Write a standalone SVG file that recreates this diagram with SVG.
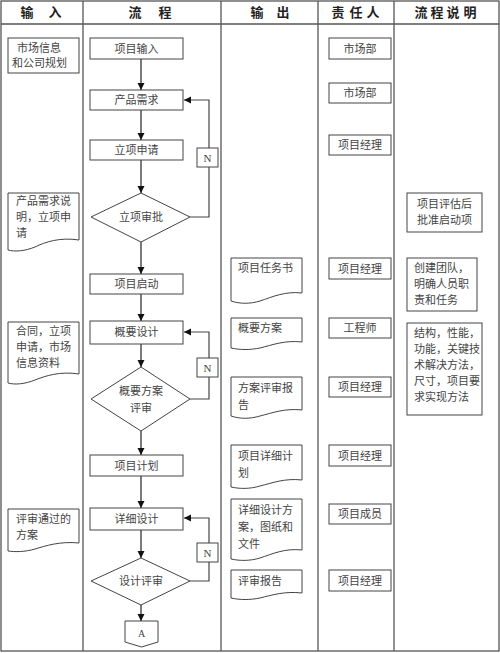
<svg xmlns="http://www.w3.org/2000/svg" width="500" height="653" viewBox="0 0 500 653">
<defs>
<marker id="ah" markerWidth="8" markerHeight="8" refX="7" refY="4" orient="auto" markerUnits="userSpaceOnUse">
<path d="M0,0.5 L7,4 L0,7.5 Z" fill="#111"/>
</marker>
<style>
.grid{stroke:#555;stroke-width:1.3;fill:none}
.box{fill:#fff;stroke:#444;stroke-width:1}
.t{font-family:"Liberation Serif","Noto Sans CJK SC",serif;font-size:11px;fill:#444}
.c{text-anchor:middle}
.h{font-family:"Liberation Serif","Noto Sans CJK SC",serif;font-size:13px;font-weight:bold;fill:#222;text-anchor:middle}
.ln{stroke:#222;stroke-width:1.2;fill:none}
</style>
</defs>
<rect width="500" height="653" fill="#fff"/>
<g id="table">
<rect class="grid" x="1" y="1" width="498" height="650"/>
<line class="grid" x1="1" y1="24" x2="499" y2="24"/>
<line class="grid" x1="83" y1="1" x2="83" y2="651"/>
<line class="grid" x1="221" y1="1" x2="221" y2="651"/>
<line class="grid" x1="318" y1="1" x2="318" y2="651"/>
<line class="grid" x1="394" y1="1" x2="394" y2="651"/>
<text class="h" x="27" y="17">输</text><text class="h" x="55" y="17">入</text>
<text class="h" x="135" y="17">流</text><text class="h" x="165" y="17">程</text>
<text class="h" x="257" y="17">输</text><text class="h" x="283" y="17">出</text>
<text class="h" x="338" y="17">责</text><text class="h" x="356" y="17">任</text><text class="h" x="373" y="17">人</text>
<text class="h" x="421" y="17">流</text><text class="h" x="437" y="17">程</text><text class="h" x="453" y="17">说</text><text class="h" x="470" y="17">明</text>
</g>
<g id="connectors">
<line class="ln" x1="141" y1="59" x2="141" y2="90" marker-end="url(#ah)"/>
<line class="ln" x1="141" y1="110" x2="141" y2="140" marker-end="url(#ah)"/>
<line class="ln" x1="141" y1="160" x2="141" y2="193" marker-end="url(#ah)"/>
<line class="ln" x1="141" y1="242" x2="141" y2="274" marker-end="url(#ah)"/>
<line class="ln" x1="141" y1="294" x2="141" y2="321" marker-end="url(#ah)"/>
<line class="ln" x1="141" y1="344" x2="141" y2="367" marker-end="url(#ah)"/>
<line class="ln" x1="141" y1="431" x2="141" y2="455" marker-end="url(#ah)"/>
<line class="ln" x1="141" y1="476" x2="141" y2="508" marker-end="url(#ah)"/>
<line class="ln" x1="141" y1="530" x2="141" y2="558" marker-end="url(#ah)"/>
<line class="ln" x1="141" y1="605" x2="141" y2="621" marker-end="url(#ah)"/>
<path class="ln" style="stroke:#444" d="M190,217 H209 V100 H184" marker-end="url(#ah)"/>
<path class="ln" style="stroke:#444" d="M190,399 H209 V332 H184" marker-end="url(#ah)"/>
<path class="ln" style="stroke:#444" d="M190,581 H209 V518 H184" marker-end="url(#ah)"/>
<g id="n1"><rect class="box" x="197" y="148" width="21" height="19"/><text class="t c" x="207.5" y="161.5">N</text></g>
<g id="n2"><rect class="box" x="197" y="358" width="21" height="19"/><text class="t c" x="207.5" y="371.5">N</text></g>
<g id="n3"><rect class="box" x="197" y="543" width="21" height="19"/><text class="t c" x="207.5" y="556.5">N</text></g>
</g>
<!-- input column -->
<g id="in1"><rect class="box" x="8" y="38" width="71" height="35"/><text class="t" x="17" y="52">市场信息</text><text class="t" x="12" y="67">和公司规划</text></g>
<g id="in2"><path class="box" d="M8,193 H79 V240 C60,237 45,242 35,247 C25,251 15,252 8,250 Z"/><text class="t" x="16" y="205">产品需求说</text><text class="t" x="16" y="221">明，立项申</text><text class="t" x="16" y="237">请</text></g>
<g id="in3"><path class="box" d="M8,322 H79 V374 C60,371 45,376 35,380 C25,384 15,385 8,383 Z"/><text class="t" x="16" y="335">合同，立项</text><text class="t" x="16" y="351">申请，市场</text><text class="t" x="16" y="367">信息资料</text></g>
<g id="in4"><path class="box" d="M8,509 H79 V543 C60,541 45,546 35,549 C25,552 15,552 8,551 Z"/><text class="t" x="16" y="523">评审通过的</text><text class="t" x="16" y="539">方案</text></g>
<!-- process column -->
<g id="p1"><rect class="box" x="90" y="38" width="93" height="21"/><text class="t c" x="136.5" y="52.5">项目输入</text></g>
<g id="p2"><rect class="box" x="90" y="90" width="93" height="20"/><text class="t c" x="136.5" y="104">产品需求</text></g>
<g id="p3"><rect class="box" x="90" y="140" width="93" height="20"/><text class="t c" x="136.5" y="154">立项申请</text></g>
<g id="d1"><path class="box" d="M141,193 L190,217 L141,242 L91,217 Z"/><text class="t c" x="141" y="221">立项审批</text></g>
<g id="p4"><rect class="box" x="90" y="274" width="93" height="20"/><text class="t c" x="136.5" y="288">项目启动</text></g>
<g id="p5"><rect class="box" x="90" y="321" width="93" height="23"/><text class="t c" x="136.5" y="336">概要设计</text></g>
<g id="d2"><path class="box" d="M141,367 L190,399 L141,431 L91,399 Z"/><text class="t c" x="141" y="395">概要方案</text><text class="t c" x="141" y="412">评审</text></g>
<g id="p6"><rect class="box" x="90" y="455" width="93" height="21"/><text class="t c" x="136.5" y="469.5">项目计划</text></g>
<g id="p7"><rect class="box" x="90" y="508" width="93" height="22"/><text class="t c" x="136.5" y="523">详细设计</text></g>
<g id="d3"><path class="box" d="M141,558 L190,581 L141,605 L91,581 Z"/><text class="t c" x="141" y="585">设计评审</text></g>
<g id="a"><path class="box" d="M125,621 H158 V642 L141.5,647 L125,642 Z"/><text class="t c" x="141.5" y="637" style="font-size:10px">A</text></g>
<!-- output column -->
<g id="o1"><path class="box" d="M231,258 H302 V293 C285,291 272,297 260,301 C250,304 240,304 231,301 Z"/><text class="t" x="238" y="272">项目任务书</text></g>
<g id="o2"><path class="box" d="M231,318 H302 V342 C285,340 272,345 260,348 C250,350 240,350 231,348 Z"/><text class="t" x="238" y="332">概要方案</text></g>
<g id="o3"><path class="box" d="M231,377 H302 V410 C285,408 272,413 260,416 C250,419 240,419 231,416 Z"/><text class="t" x="238" y="392">方案评审报</text><text class="t" x="238" y="409">告</text></g>
<g id="o4"><path class="box" d="M231,445 H302 V480 C285,478 272,483 260,486 C250,489 240,489 231,487 Z"/><text class="t" x="238" y="460">项目详细计</text><text class="t" x="238" y="477">划</text></g>
<g id="o5"><path class="box" d="M231,499 H302 V550 C285,548 272,554 260,558 C250,561 240,561 231,559 Z"/><text class="t" x="238" y="514">详细设计方</text><text class="t" x="238" y="531">案，图纸和</text><text class="t" x="238" y="548">文件</text></g>
<g id="o6"><path class="box" d="M231,570 H302 V593 C285,591 272,595 260,598 C250,600 240,600 231,598 Z"/><text class="t" x="238" y="585">评审报告</text></g>
<!-- responsible column -->
<g id="r1"><rect class="box" x="329" y="38" width="62" height="21"/><text class="t c" x="360" y="52.5">市场部</text></g>
<g id="r2"><rect class="box" x="329" y="83" width="62" height="20"/><text class="t c" x="360" y="97">市场部</text></g>
<g id="r3"><rect class="box" x="329" y="135" width="62" height="20"/><text class="t c" x="360" y="149">项目经理</text></g>
<g id="r4"><rect class="box" x="329" y="258" width="62" height="21"/><text class="t c" x="360" y="272.5">项目经理</text></g>
<g id="r5"><rect class="box" x="329" y="318" width="62" height="20"/><text class="t c" x="360" y="332">工程师</text></g>
<g id="r6"><rect class="box" x="329" y="377" width="62" height="20"/><text class="t c" x="360" y="391">项目经理</text></g>
<g id="r7"><rect class="box" x="329" y="445" width="62" height="21"/><text class="t c" x="360" y="459.5">项目经理</text></g>
<g id="r8"><rect class="box" x="329" y="504" width="62" height="20"/><text class="t c" x="360" y="518">项目成员</text></g>
<g id="r9"><rect class="box" x="329" y="570" width="62" height="21"/><text class="t c" x="360" y="584.5">项目经理</text></g>
<!-- description column -->
<g id="s1"><rect class="box" x="407" y="193" width="75" height="39"/><text class="t c" x="444.5" y="208">项目评估后</text><text class="t c" x="444.5" y="224">批准启动项</text></g>
<g id="s2"><rect class="box" x="407" y="258" width="70" height="53"/><text class="t" x="414" y="272">创建团队，</text><text class="t" x="414" y="288">明确人员职</text><text class="t" x="414" y="304">责和任务</text></g>
<g id="s3"><rect class="box" x="407" y="323" width="75" height="92"/><text class="t" x="414" y="337">结构，性能，</text><text class="t" x="414" y="353">功能，关键技</text><text class="t" x="414" y="369">术解决方法，</text><text class="t" x="414" y="385">尺寸，项目要</text><text class="t" x="414" y="401">求实现方法</text></g>
</svg>
